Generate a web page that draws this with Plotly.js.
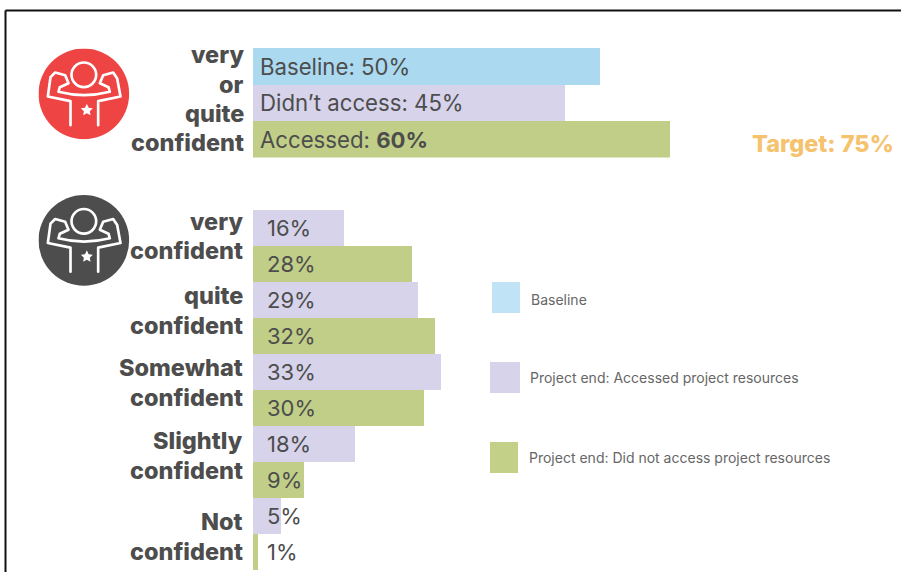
<!DOCTYPE html>
<html>
<head>
<meta charset="utf-8">
<script src="https://cdn.plot.ly/plotly-3.0.1.min.js"></script>
<style>html,body{margin:0;padding:0;background:#fff}</style>
</head>
<body>
<div id="chart" style="width:901px;height:572px"></div>
<script>
// Combined confidence: one bar per group
const summaryGroups = ['Baseline', "Didn’t access", 'Accessed'];
const summaryValues = [50, 45, 60];
const summaryLabels = ['Baseline: 50%', 'Didn’t access: 45%', 'Accessed: <b>60%</b>'];
const targetLabel = 'Target: 75%';

// Confidence breakdown by level
const levels = ['Very', 'Quite', 'Somewhat', 'Slightly', 'Not'];
const levelLabels = [['very', 'confident'], ['quite', 'confident'], ['Somewhat', 'confident'], ['Slightly', 'confident'], ['Not', 'confident']];
const accessedValues = [16, 29, 33, 18, 5];
const notAccessedValues = [28, 32, 30, 9, 1];

const legendNames = ['Baseline', 'Project end: Accessed project resources', 'Project end: Did not access project resources'];

const W = 901, H = 572;
const BLUE = '#ABD9F0', LILAC = '#D6D3EA', GREEN = '#C0CE87', INK = '#4D4D4D';
const FONT = 'Inter, "Open Sans", sans-serif';
const px = x => x / W;
const py = y => 1 - y / H;

// Icon: a flexing figure with a star on its chest, on a coloured disc
function badge(color) {
  const svg = `<svg xmlns="http://www.w3.org/2000/svg" viewBox="116 146 273 273" width="273" height="273">
    <circle cx="252" cy="282" r="136" fill="${color}"/>
    <g fill="none" stroke="#fff" stroke-width="8" stroke-linecap="round" stroke-linejoin="round">
      <circle cx="252" cy="225" r="37"/>
      <path d="M212 376V304L144 290L152 232L166 218L196 226L206 250L180 262L176 276Q252 296 330 276L326 262L300 250L310 226L340 218L352 236L362 290L295 304V376"/>
    </g>
    <path fill="#fff" d="M261 312l5.5 11.5 12.5 1.7-9.1 8.7 2.2 12.5-11.1-6-11.1 6 2.2-12.5-9.1-8.7 12.5-1.7z"/>
  </svg>`;
  return 'data:image/svg+xml;base64,' + btoa(svg);
}
const icon = (color, top) => ({
  source: badge(color), xref: 'paper', yref: 'paper', layer: 'above',
  x: px(38.5), y: py(top), sizex: 91 / W, sizey: 91 / H,
  xanchor: 'left', yanchor: 'top', sizing: 'stretch'
});

const data = [
  { type: 'bar', orientation: 'h', xaxis: 'x', yaxis: 'y', y: summaryGroups, x: summaryValues,
    marker: { color: [BLUE, LILAC, GREEN], line: { width: 0 } }, hoverinfo: 'x+y', showlegend: false },
  { type: 'bar', orientation: 'h', xaxis: 'x2', yaxis: 'y2', y: levels, x: accessedValues,
    marker: { color: LILAC, line: { width: 0 } }, showlegend: false },
  { type: 'bar', orientation: 'h', xaxis: 'x2', yaxis: 'y2', y: levels, x: notAccessedValues,
    marker: { color: GREEN, line: { width: 0 } }, showlegend: false }
];

const annotations = [];
const add = o => annotations.push(Object.assign({ showarrow: false, xanchor: 'left', yanchor: 'middle', font: { family: FONT, size: 22.2, color: INK } }, o));

// In-bar labels, upper chart
summaryGroups.forEach((g, i) => add({ xref: 'x', yref: 'y', x: 0, y: g, xshift: 5, text: summaryLabels[i] }));

// In-bar labels, lower chart
levels.forEach((l, i) => {
  add({ xref: 'x2', yref: 'y2', x: 0, y: l, xshift: 12, yshift: 18, text: accessedValues[i] + '%', font: { family: FONT, size: 22, color: INK } });
  add({ xref: 'x2', yref: 'y2', x: 0, y: l, xshift: 12, yshift: -18, text: notAccessedValues[i] + '%', font: { family: FONT, size: 22, color: INK } });
});

// Row headings, right aligned against the bars
const headingStyle = { xref: 'paper', yref: 'paper', xanchor: 'right', font: { family: FONT, size: 23.5, color: INK, weight: 800 } };
['very', 'or', 'quite', 'confident'].forEach((t, i) =>
  add(Object.assign({}, headingStyle, { x: px(246), y: py(55 + i * 29.3), text: t })));
const headingTops = [221, 295, 367, 440, 521];
levelLabels.forEach((pair, i) => pair.forEach((t, j) =>
  add(Object.assign({}, headingStyle, { x: px(245), y: py(headingTops[i] + j * 30), text: t }))));

// Target callout
add({ xref: 'paper', yref: 'paper', xanchor: 'right', x: px(896), y: py(143), text: targetLabel,
      font: { family: FONT, size: 23.5, color: '#F5C26E', weight: 800 } });

// Hand-placed key
const key = [
  { x0: 492, x1: 520, y0: 282, y1: 313, color: '#C0E4F5', tx: 528.5, ty: 299.5 },
  { x0: 490, x1: 520, y0: 362, y1: 393, color: LILAC, tx: 528, ty: 377.5 },
  { x0: 490, x1: 518, y0: 442, y1: 473, color: '#C3D088', tx: 527, ty: 457.5 }
];
const shapes = key.map(k => ({
  type: 'rect', xref: 'paper', yref: 'paper', line: { width: 0 }, fillcolor: k.color,
  x0: px(k.x0), x1: px(k.x1), y0: py(k.y0), y1: py(k.y1)
}));
key.forEach((k, i) => add({ xref: 'paper', yref: 'paper', x: px(k.tx), y: py(k.ty), text: legendNames[i],
  font: { family: FONT, size: 14, color: '#666666' } }));

// Frame along the top and left edges
const frame = { type: 'line', xref: 'paper', yref: 'paper', line: { color: '#111', width: 2 } };
shapes.push(Object.assign({}, frame, { x0: px(5.5), x1: 1, y0: py(10.5), y1: py(10.5) }));
shapes.push(Object.assign({}, frame, { x0: px(5.5), x1: px(5.5), y0: py(10.5), y1: 0 }));

const hiddenX = { visible: false, fixedrange: true };
const hiddenY = { visible: false, fixedrange: true, autorange: 'reversed', type: 'category' };

const layout = {
  width: W, height: H, autosize: false,
  margin: { l: 0, r: 0, t: 0, b: 0 },
  paper_bgcolor: '#fff', plot_bgcolor: 'rgba(0,0,0,0)',
  barmode: 'group', bargap: 0, bargroupgap: 0,
  font: { family: FONT, color: INK },
  xaxis: Object.assign({}, hiddenX, { domain: [px(252.5), px(252.5 + 64 * 6.95)], range: [0, 64], anchor: 'y' }),
  yaxis: Object.assign({}, hiddenY, { domain: [py(157.5), py(48)], anchor: 'x', categoryorder: 'array', categoryarray: summaryGroups }),
  xaxis2: Object.assign({}, hiddenX, { domain: [px(252.5), px(252.5 + 40 * 5.7)], range: [0, 40], anchor: 'y2' }),
  yaxis2: Object.assign({}, hiddenY, { domain: [py(570), py(210)], anchor: 'x2', categoryorder: 'array', categoryarray: levels }),
  shapes, annotations,
  images: [icon('#EF4444', 48.5), icon(INK, 195)]
};

Plotly.newPlot('chart', data, layout, { displayModeBar: false, staticPlot: true });
</script>
</body>
</html>
